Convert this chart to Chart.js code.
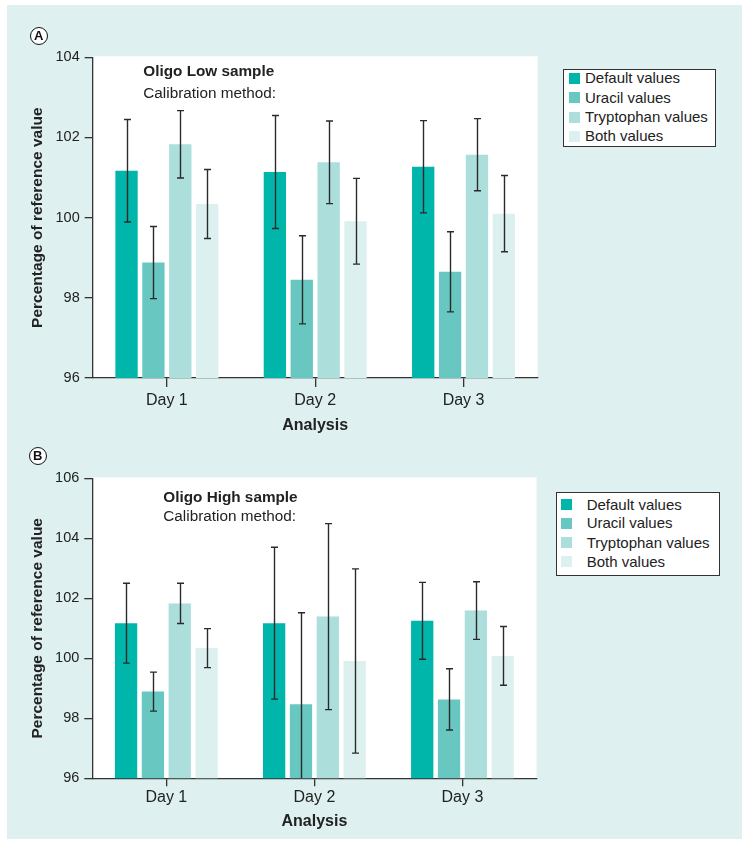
<!DOCTYPE html>
<html>
<head>
<meta charset="utf-8">
<script src="https://cdn.jsdelivr.net/npm/chart.js@4"></script>
<style>
  html, body { margin: 0; padding: 0; background: #ffffff; }
  body { width: 750px; height: 844px; position: relative; overflow: hidden;
         font-family: 'Liberation Sans', Arial, sans-serif; color: #222; }
  #panel { position: absolute; left: 7px; top: 5px; width: 735px; height: 834px; background: #def0ef; }
  canvas { position: absolute; left: 0; }
  #cA { top: 0; }
  #cB { top: 440px; }
  .letter { position: absolute; width: 16px; height: 16px; border: 1.5px solid #111; border-radius: 50%;
            background: #fff; font-weight: bold; font-size: 13px; line-height: 16px; text-align: center; color: #111; }
  .note { position: absolute; font-size: 15.3px; white-space: nowrap; line-height: 18px; color: #222; }
  .note b { font-weight: bold; }
  .legend { position: absolute; background: #fff; border: 1px solid #333; box-sizing: border-box; }
  .legend .row { position: absolute; font-size: 15px; line-height: 18px; white-space: nowrap; color: #222; }
  .legend .sw { position: absolute; width: 11px; height: 11px; }
</style>
</head>
<body>
<div id="panel"></div>
<canvas id="cA" width="750" height="440" style="width:750px;height:440px"></canvas>
<canvas id="cB" width="750" height="404" style="width:750px;height:404px"></canvas>
<div id="overlay"></div>
<script>
// ---- Data ----
const days = ['Day 1', 'Day 2', 'Day 3'];
const seriesNames = ['Default values', 'Uracil values', 'Tryptophan values', 'Both values'];
const seriesColors = ['#00b5aa', '#68c7c1', '#acdedb', '#dcf0ef'];

// Panel A: Oligo Low sample
const lowDefault = [101.17, 101.14, 101.27];
const lowDefaultErr = [1.28, 1.41, 1.15];
const lowUracil = [98.88, 98.45, 98.65];
const lowUracilErr = [0.90, 1.10, 1.00];
const lowTryptophan = [101.83, 101.38, 101.57];
const lowTryptophanErr = [0.84, 1.03, 0.90];
const lowBoth = [100.34, 99.91, 100.10];
const lowBothErr = [0.86, 1.07, 0.95];
const lowYTicks = [96, 98, 100, 102, 104];

// Panel B: Oligo High sample
const highDefault = [101.17, 101.17, 101.25];
const highDefaultErr = [1.33, 2.53, 1.28];
const highUracil = [98.89, 98.47, 98.63];
const highUracilErr = [0.65, 3.05, 1.02];
const highTryptophan = [101.83, 101.39, 101.59];
const highTryptophanErr = [0.67, 3.10, 0.96];
const highBoth = [100.34, 99.91, 100.08];
const highBothErr = [0.65, 3.07, 0.98];
const highYTicks = [96, 98, 100, 102, 104, 106];

const FONT = "'Liberation Sans', Arial, sans-serif";
const INK = '#222';
const AXIS = '#333';

const whiteArea = {
  id: 'whiteArea',
  beforeDraw(chart) {
    const a = chart.chartArea, ctx = chart.ctx;
    ctx.save();
    ctx.fillStyle = '#ffffff';
    ctx.fillRect(a.left, a.top - 1, a.right - a.left, a.bottom - a.top + 1);
    ctx.restore();
  }
};

const errorBars = {
  id: 'errorBars',
  afterDatasetsDraw(chart) {
    const ctx = chart.ctx, a = chart.chartArea, ys = chart.scales.y;
    ctx.save();
    ctx.beginPath();
    ctx.rect(a.left, a.top - 2, a.right - a.left, a.bottom - a.top + 2);
    ctx.clip();
    ctx.strokeStyle = '#2a2a2a';
    ctx.lineWidth = 1.4;
    chart.data.datasets.forEach((ds, i) => {
      const meta = chart.getDatasetMeta(i);
      meta.data.forEach((bar, j) => {
        const v = ds.data[j], e = ds.errors[j];
        const yt = ys.getPixelForValue(v + e), yb = ys.getPixelForValue(v - e);
        const x = Math.round(bar.x) + 0.5;
        ctx.beginPath();
        ctx.moveTo(x, yt); ctx.lineTo(x, yb);
        ctx.moveTo(x - 3.5, yt); ctx.lineTo(x + 3.5, yt);
        ctx.moveTo(x - 3.5, yb); ctx.lineTo(x + 3.5, yb);
        ctx.stroke();
      });
    });
    ctx.restore();
  }
};

function makeChart(id, vals, errs, yTicks, lay) {
  const datasets = seriesNames.map((name, i) => ({
    label: name,
    data: vals[i],
    errors: errs[i],
    backgroundColor: seriesColors[i],
    borderWidth: 0,
    categoryPercentage: 0.725,
    barPercentage: 0.83
  }));
  return new Chart(document.getElementById(id), {
    type: 'bar',
    data: { labels: days, datasets },
    options: {
      responsive: false,
      animation: false,
      devicePixelRatio: 1,
      layout: { padding: { left: 0, top: lay.top, right: lay.right, bottom: lay.bottom } },
      plugins: { legend: { display: false }, tooltip: { enabled: false }, title: { display: false } },
      scales: {
        x: {
          grid: { display: true, drawOnChartArea: false, drawTicks: true, tickLength: lay.xTick, offset: false, color: AXIS, lineWidth: 1.3 },
          border: { display: true, color: AXIS, width: 1.3 },
          ticks: { color: INK, font: { family: FONT, size: 16 }, padding: lay.xPad, maxRotation: 0, autoSkip: false },
          title: { display: true, text: 'Analysis', color: INK, font: { family: FONT, size: 16, weight: 'bold' }, padding: { top: 0, bottom: lay.titlePad } },
          afterFit(s) { s.height = 60; }
        },
        y: {
          min: yTicks[0],
          max: yTicks[yTicks.length - 1],
          afterBuildTicks(s) { s.ticks = yTicks.map(v => ({ value: v })); },
          grid: { display: true, drawOnChartArea: false, drawTicks: true, tickLength: 8, color: AXIS, lineWidth: 1.3 },
          border: { display: true, color: AXIS, width: 1.3 },
          ticks: { color: INK, font: { family: FONT, size: 14.5 }, padding: 5 },
          title: { display: true, text: 'Percentage of reference value', color: INK, font: { family: FONT, size: 15.5, weight: 'bold' }, padding: { top: 28, bottom: 0 } },
          afterFit(s) { s.width = lay.left; }
        }
      }
    },
    plugins: [whiteArea, errorBars]
  });
}

makeChart('cA',
  [lowDefault, lowUracil, lowTryptophan, lowBoth],
  [lowDefaultErr, lowUracilErr, lowTryptophanErr, lowBothErr],
  lowYTicks,
  { left: 92.7, top: 57.3, right: 212.3, bottom: 2, xTick: 9, xPad: 3.7, titlePad: 3 });

makeChart('cB',
  [highDefault, highUracil, highTryptophan, highBoth],
  [highDefaultErr, highUracilErr, highTryptophanErr, highBothErr],
  highYTicks,
  { left: 92.3, top: 38.3, right: 213.5, bottom: 5.7, xTick: 8, xPad: 1.6, titlePad: 6.7 });

// ---- Overlay text: panel letters, notes, legends ----
const ov = document.getElementById('overlay');
function addLetter(ch, cx, cy) {
  const d = document.createElement('div');
  d.className = 'letter';
  d.textContent = ch;
  d.style.left = (cx - 9.5) + 'px';
  d.style.top = (cy - 9.5) + 'px';
  ov.appendChild(d);
}
function addNote(title, sub, x, y1, y2) {
  const a = document.createElement('div');
  a.className = 'note'; a.innerHTML = '<b></b>';
  a.firstChild.textContent = title;
  a.style.left = x + 'px'; a.style.top = (y1 - 9) + 'px';
  const b = document.createElement('div');
  b.className = 'note'; b.textContent = sub;
  b.style.left = x + 'px'; b.style.top = (y2 - 9) + 'px';
  ov.appendChild(a); ov.appendChild(b);
}
function addLegend(box, swX, txtX, rowsY) {
  const lg = document.createElement('div');
  lg.className = 'legend';
  lg.style.left = box[0] + 'px'; lg.style.top = box[1] + 'px';
  lg.style.width = (box[2] - box[0]) + 'px'; lg.style.height = (box[3] - box[1]) + 'px';
  seriesNames.forEach((name, i) => {
    const sw = document.createElement('div');
    sw.className = 'sw';
    sw.style.background = seriesColors[i];
    sw.style.left = (swX - box[0] - 1) + 'px';
    sw.style.top = (rowsY[i] - box[1] - 1 - 5.5) + 'px';
    const t = document.createElement('div');
    t.className = 'row';
    t.textContent = name;
    t.style.left = (txtX - box[0] - 1) + 'px';
    t.style.top = (rowsY[i] - box[1] - 1 - 9) + 'px';
    lg.appendChild(sw); lg.appendChild(t);
  });
  ov.appendChild(lg);
}
addLetter('A', 39.3, 36);
addLetter('B', 38.3, 456.7);
addNote('Oligo Low sample', 'Calibration method:', 143.3, 70.7, 93.3);
addNote('Oligo High sample', 'Calibration method:', 163.3, 496.7, 516.2);
addLegend([563.3, 69, 716, 147], 569.3, 585, [78.3, 97.7, 117, 136]);
addLegend([555.7, 492.3, 720.3, 576], 560.7, 586.7, [505, 523.3, 542.7, 561.7]);
</script>
</body>
</html>
